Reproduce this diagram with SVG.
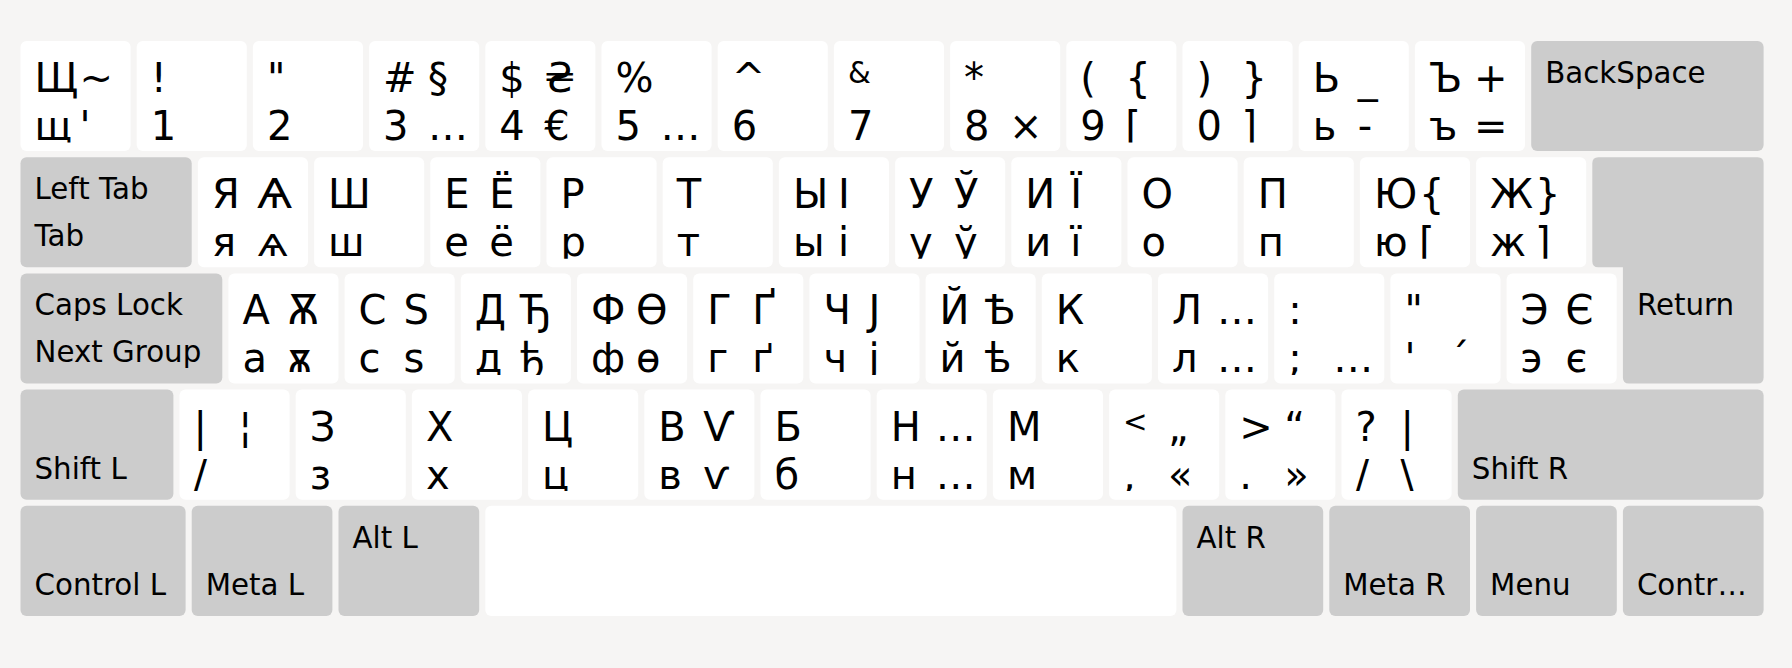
<svg xmlns="http://www.w3.org/2000/svg" width="1792" height="668" viewBox="0 0 1792 668">
<style>
.k{fill:#ffffff}
.m{fill:#cccccc}
text{font-family:"DejaVu Sans","Noto Sans",sans-serif;fill:#000000}
.b{font-size:40px}
.s{font-size:29.3px}
</style>
<defs>
<clipPath id="c" clipPathUnits="userSpaceOnUse"><rect x="0" y="0" width="400" height="101.5"/></clipPath>
</defs>
<rect width="1792" height="668" fill="#f6f5f4"/>

<g id="row1">
<g id="k-tlde" transform="translate(22.5,41)"><rect class="k" x="-2" width="110.1" height="110.1" rx="6"/><g clip-path="url(#c)"><text class="b" x="12" y="51">Щ</text><text class="b" x="57" y="51">~</text><text class="b" x="12" y="99">щ</text><text class="b" x="57" y="99">'</text></g></g>
<g id="k-ae01" transform="translate(138.7,41)"><rect class="k" x="-2" width="110.1" height="110.1" rx="6"/><g clip-path="url(#c)"><text class="b" x="12" y="51">!</text><text class="b" x="12" y="99">1</text></g></g>
<g id="k-ae02" transform="translate(254.9,41)"><rect class="k" x="-2" width="110.1" height="110.1" rx="6"/><g clip-path="url(#c)"><text class="b" x="12" y="51">"</text><text class="b" x="12" y="99">2</text></g></g>
<g id="k-ae03" transform="translate(371.1,41)"><rect class="k" x="-2" width="110.1" height="110.1" rx="6"/><g clip-path="url(#c)"><text class="b" x="12" y="51">#</text><text class="b" x="57" y="51">§</text><text class="b" x="12" y="99">3</text><text class="b" x="57" y="99">…</text></g></g>
<g id="k-ae04" transform="translate(487.3,41)"><rect class="k" x="-2" width="110.1" height="110.1" rx="6"/><g clip-path="url(#c)"><text class="b" x="12" y="51">$</text><text class="b" x="57" y="51">₴</text><text class="b" x="12" y="99">4</text><text class="b" x="57" y="99">€</text></g></g>
<g id="k-ae05" transform="translate(603.5,41)"><rect class="k" x="-2" width="110.1" height="110.1" rx="6"/><g clip-path="url(#c)"><text class="b" x="12" y="51">%</text><text class="b" x="12" y="99">5</text><text class="b" x="57" y="99">…</text></g></g>
<g id="k-ae06" transform="translate(719.7,41)"><rect class="k" x="-2" width="110.1" height="110.1" rx="6"/><g clip-path="url(#c)"><text class="b" x="12" y="51">^</text><text class="b" x="12" y="99">6</text></g></g>
<g id="k-ae07" transform="translate(835.9,41)"><rect class="k" x="-2" width="110.1" height="110.1" rx="6"/><g clip-path="url(#c)"><text class="s" x="12" y="42">&amp;</text><text class="b" x="12" y="99">7</text></g></g>
<g id="k-ae08" transform="translate(952.1,41)"><rect class="k" x="-2" width="110.1" height="110.1" rx="6"/><g clip-path="url(#c)"><text class="b" x="12" y="51">*</text><text class="b" x="12" y="99">8</text><text class="b" x="57" y="99">×</text></g></g>
<g id="k-ae09" transform="translate(1068.3,41)"><rect class="k" x="-2" width="110.1" height="110.1" rx="6"/><g clip-path="url(#c)"><text class="b" x="12" y="51">(</text><text class="b" x="57" y="51">{</text><text class="b" x="12" y="99">9</text><text class="b" x="57" y="99">[</text></g></g>
<g id="k-ae10" transform="translate(1184.5,41)"><rect class="k" x="-2" width="110.1" height="110.1" rx="6"/><g clip-path="url(#c)"><text class="b" x="12" y="51">)</text><text class="b" x="57" y="51">}</text><text class="b" x="12" y="99">0</text><text class="b" x="57" y="99">]</text></g></g>
<g id="k-ae11" transform="translate(1300.7,41)"><rect class="k" x="-2" width="110.1" height="110.1" rx="6"/><g clip-path="url(#c)"><text class="b" x="12" y="51">Ь</text><text class="b" x="57" y="51">_</text><text class="b" x="12" y="99">ь</text><text class="b" x="57" y="99">-</text></g></g>
<g id="k-ae12" transform="translate(1416.9,41)"><rect class="k" x="-2" width="110.1" height="110.1" rx="6"/><g clip-path="url(#c)"><text class="b" x="12" y="51">Ъ</text><text class="b" x="57" y="51">+</text><text class="b" x="12" y="99">ъ</text><text class="b" x="57" y="99">=</text></g></g>
<g id="k-bksp" transform="translate(1533.2,41)"><rect class="m" x="-2" width="232.4" height="110.1" rx="6"/><text class="s" x="12" y="42">BackSpace</text></g>
</g>

<g id="row2">
<g id="k-tab" transform="translate(22.5,157.2)"><rect class="m" x="-2" width="171.2" height="110.1" rx="6"/><text class="s" x="12" y="42">Left Tab</text><text class="s" x="12" y="89">Tab</text></g>
<g id="k-ad01" transform="translate(199.9,157.2)"><rect class="k" x="-2" width="110.1" height="110.1" rx="6"/><g clip-path="url(#c)"><text class="b" x="12" y="51">Я</text><text class="b" x="57" y="51">Ѧ</text><text class="b" x="12" y="99">я</text><text class="b" x="57" y="99">ѧ</text></g></g>
<g id="k-ad02" transform="translate(316.1,157.2)"><rect class="k" x="-2" width="110.1" height="110.1" rx="6"/><g clip-path="url(#c)"><text class="b" x="12" y="51">Ш</text><text class="b" x="12" y="99">ш</text></g></g>
<g id="k-ad03" transform="translate(432.3,157.2)"><rect class="k" x="-2" width="110.1" height="110.1" rx="6"/><g clip-path="url(#c)"><text class="b" x="12" y="51">Е</text><text class="b" x="57" y="51">Ё</text><text class="b" x="12" y="99">е</text><text class="b" x="57" y="99">ё</text></g></g>
<g id="k-ad04" transform="translate(548.5,157.2)"><rect class="k" x="-2" width="110.1" height="110.1" rx="6"/><g clip-path="url(#c)"><text class="b" x="12" y="51">Р</text><text class="b" x="12" y="99">р</text></g></g>
<g id="k-ad05" transform="translate(664.7,157.2)"><rect class="k" x="-2" width="110.1" height="110.1" rx="6"/><g clip-path="url(#c)"><text class="b" x="12" y="51">Т</text><text class="b" x="12" y="99">т</text></g></g>
<g id="k-ad06" transform="translate(780.9,157.2)"><rect class="k" x="-2" width="110.1" height="110.1" rx="6"/><g clip-path="url(#c)"><text class="b" x="12" y="51">Ы</text><text class="b" x="57" y="51">І</text><text class="b" x="12" y="99">ы</text><text class="b" x="57" y="99">і</text></g></g>
<g id="k-ad07" transform="translate(897.1,157.2)"><rect class="k" x="-2" width="110.1" height="110.1" rx="6"/><g clip-path="url(#c)"><text class="b" x="12" y="51">У</text><text class="b" x="57" y="51">Ў</text><text class="b" x="12" y="99">у</text><text class="b" x="57" y="99">ў</text></g></g>
<g id="k-ad08" transform="translate(1013.3,157.2)"><rect class="k" x="-2" width="110.1" height="110.1" rx="6"/><g clip-path="url(#c)"><text class="b" x="12" y="51">И</text><text class="b" x="57" y="51">Ї</text><text class="b" x="12" y="99">и</text><text class="b" x="57" y="99">ї</text></g></g>
<g id="k-ad09" transform="translate(1129.5,157.2)"><rect class="k" x="-2" width="110.1" height="110.1" rx="6"/><g clip-path="url(#c)"><text class="b" x="12" y="51">О</text><text class="b" x="12" y="99">о</text></g></g>
<g id="k-ad10" transform="translate(1245.7,157.2)"><rect class="k" x="-2" width="110.1" height="110.1" rx="6"/><g clip-path="url(#c)"><text class="b" x="12" y="51">П</text><text class="b" x="12" y="99">п</text></g></g>
<g id="k-ad11" transform="translate(1361.9,157.2)"><rect class="k" x="-2" width="110.1" height="110.1" rx="6"/><g clip-path="url(#c)"><text class="b" x="12" y="51">Ю</text><text class="b" x="57" y="51">{</text><text class="b" x="12" y="99">ю</text><text class="b" x="57" y="99">[</text></g></g>
<g id="k-ad12" transform="translate(1478.1,157.2)"><rect class="k" x="-2" width="110.1" height="110.1" rx="6"/><g clip-path="url(#c)"><text class="b" x="12" y="51">Ж</text><text class="b" x="57" y="51">}</text><text class="b" x="12" y="99">ж</text><text class="b" x="57" y="99">]</text></g></g>
<g id="k-rtrn"><path class="m" d="M1598.3,157.2 H1757.6 Q1763.6,157.2 1763.6,163.2 V377.4 Q1763.6,383.4 1757.6,383.4 H1628.9 Q1622.9,383.4 1622.9,377.4 V267.3 H1598.3 Q1592.3,267.3 1592.3,261.3 V163.2 Q1592.3,157.2 1598.3,157.2 Z"/><text class="s" x="1636.9" y="315.4">Return</text></g>
</g>

<g id="row3">
<g id="k-caps" transform="translate(22.5,273.4)"><rect class="m" x="-2" width="201.8" height="110.1" rx="6"/><text class="s" x="12" y="42">Caps Lock</text><text class="s" x="12" y="89">Next Group</text></g>
<g id="k-ac01" transform="translate(230.4,273.4)"><rect class="k" x="-2" width="110.1" height="110.1" rx="6"/><g clip-path="url(#c)"><text class="b" x="12" y="51">А</text><text class="b" x="57" y="51">Ѫ</text><text class="b" x="12" y="99">а</text><text class="b" x="57" y="99">ѫ</text></g></g>
<g id="k-ac02" transform="translate(346.6,273.4)"><rect class="k" x="-2" width="110.1" height="110.1" rx="6"/><g clip-path="url(#c)"><text class="b" x="12" y="51">С</text><text class="b" x="57" y="51">Ѕ</text><text class="b" x="12" y="99">с</text><text class="b" x="57" y="99">ѕ</text></g></g>
<g id="k-ac03" transform="translate(462.8,273.4)"><rect class="k" x="-2" width="110.1" height="110.1" rx="6"/><g clip-path="url(#c)"><text class="b" x="12" y="51">Д</text><text class="b" x="57" y="51">Ђ</text><text class="b" x="12" y="99">д</text><text class="b" x="57" y="99">ђ</text></g></g>
<g id="k-ac04" transform="translate(579,273.4)"><rect class="k" x="-2" width="110.1" height="110.1" rx="6"/><g clip-path="url(#c)"><text class="b" x="12" y="51">Ф</text><text class="b" x="57" y="51">Ѳ</text><text class="b" x="12" y="99">ф</text><text class="b" x="57" y="99">ѳ</text></g></g>
<g id="k-ac05" transform="translate(695.2,273.4)"><rect class="k" x="-2" width="110.1" height="110.1" rx="6"/><g clip-path="url(#c)"><text class="b" x="12" y="51">Г</text><text class="b" x="57" y="51">Ґ</text><text class="b" x="12" y="99">г</text><text class="b" x="57" y="99">ґ</text></g></g>
<g id="k-ac06" transform="translate(811.4,273.4)"><rect class="k" x="-2" width="110.1" height="110.1" rx="6"/><g clip-path="url(#c)"><text class="b" x="12" y="51">Ч</text><text class="b" x="57" y="51">Ј</text><text class="b" x="12" y="99">ч</text><text class="b" x="57" y="99">ј</text></g></g>
<g id="k-ac07" transform="translate(927.6,273.4)"><rect class="k" x="-2" width="110.1" height="110.1" rx="6"/><g clip-path="url(#c)"><text class="b" x="12" y="51">Й</text><text class="b" x="57" y="51">Ѣ</text><text class="b" x="12" y="99">й</text><text class="b" x="57" y="99">ѣ</text></g></g>
<g id="k-ac08" transform="translate(1043.8,273.4)"><rect class="k" x="-2" width="110.1" height="110.1" rx="6"/><g clip-path="url(#c)"><text class="b" x="12" y="51">К</text><text class="b" x="12" y="99">к</text></g></g>
<g id="k-ac09" transform="translate(1160,273.4)"><rect class="k" x="-2" width="110.1" height="110.1" rx="6"/><g clip-path="url(#c)"><text class="b" x="12" y="51">Л</text><text class="b" x="57" y="51">…</text><text class="b" x="12" y="99">л</text><text class="b" x="57" y="99">…</text></g></g>
<g id="k-ac10" transform="translate(1276.2,273.4)"><rect class="k" x="-2" width="110.1" height="110.1" rx="6"/><g clip-path="url(#c)"><text class="b" x="12" y="51">:</text><text class="b" x="12" y="99">;</text><text class="b" x="57" y="99">…</text></g></g>
<g id="k-ac11" transform="translate(1392.4,273.4)"><rect class="k" x="-2" width="110.1" height="110.1" rx="6"/><g clip-path="url(#c)"><text class="b" x="12" y="51">"</text><text class="b" x="12" y="99">'</text><text class="b" x="57" y="99">´</text></g></g>
<g id="k-ac12" transform="translate(1508.6,273.4)"><rect class="k" x="-2" width="110.1" height="110.1" rx="6"/><g clip-path="url(#c)"><text class="b" x="12" y="51">Э</text><text class="b" x="57" y="51">Є</text><text class="b" x="12" y="99">э</text><text class="b" x="57" y="99">є</text></g></g>
</g>

<g id="row4">
<g id="k-lfsh" transform="translate(22.5,389.6)"><rect class="m" x="-2" width="152.9" height="110.1" rx="6"/><text class="s" x="12" y="89">Shift L</text></g>
<g id="k-lsgt" transform="translate(181.5,389.6)"><rect class="k" x="-2" width="110.1" height="110.1" rx="6"/><g clip-path="url(#c)"><text class="b" x="12" y="51">|</text><text class="b" x="57" y="51">¦</text><text class="b" x="12" y="99">/</text></g></g>
<g id="k-ab01" transform="translate(297.7,389.6)"><rect class="k" x="-2" width="110.1" height="110.1" rx="6"/><g clip-path="url(#c)"><text class="b" x="12" y="51">З</text><text class="b" x="12" y="99">з</text></g></g>
<g id="k-ab02" transform="translate(413.9,389.6)"><rect class="k" x="-2" width="110.1" height="110.1" rx="6"/><g clip-path="url(#c)"><text class="b" x="12" y="51">Х</text><text class="b" x="12" y="99">х</text></g></g>
<g id="k-ab03" transform="translate(530.1,389.6)"><rect class="k" x="-2" width="110.1" height="110.1" rx="6"/><g clip-path="url(#c)"><text class="b" x="12" y="51">Ц</text><text class="b" x="12" y="99">ц</text></g></g>
<g id="k-ab04" transform="translate(646.3,389.6)"><rect class="k" x="-2" width="110.1" height="110.1" rx="6"/><g clip-path="url(#c)"><text class="b" x="12" y="51">В</text><text class="b" x="57" y="51">Ѵ</text><text class="b" x="12" y="99">в</text><text class="b" x="57" y="99">ѵ</text></g></g>
<g id="k-ab05" transform="translate(762.5,389.6)"><rect class="k" x="-2" width="110.1" height="110.1" rx="6"/><g clip-path="url(#c)"><text class="b" x="12" y="51">Б</text><text class="b" x="12" y="99">б</text></g></g>
<g id="k-ab06" transform="translate(878.7,389.6)"><rect class="k" x="-2" width="110.1" height="110.1" rx="6"/><g clip-path="url(#c)"><text class="b" x="12" y="51">Н</text><text class="b" x="57" y="51">…</text><text class="b" x="12" y="99">н</text><text class="b" x="57" y="99">…</text></g></g>
<g id="k-ab07" transform="translate(994.9,389.6)"><rect class="k" x="-2" width="110.1" height="110.1" rx="6"/><g clip-path="url(#c)"><text class="b" x="12" y="51">М</text><text class="b" x="12" y="99">м</text></g></g>
<g id="k-ab08" transform="translate(1111.1,389.6)"><rect class="k" x="-2" width="110.1" height="110.1" rx="6"/><g clip-path="url(#c)"><text class="s" x="12" y="42">&lt;</text><text class="b" x="57" y="51">„</text><text class="b" x="12" y="99">,</text><text class="b" x="57" y="99">«</text></g></g>
<g id="k-ab09" transform="translate(1227.3,389.6)"><rect class="k" x="-2" width="110.1" height="110.1" rx="6"/><g clip-path="url(#c)"><text class="b" x="12" y="51">&gt;</text><text class="b" x="57" y="51">“</text><text class="b" x="12" y="99">.</text><text class="b" x="57" y="99">»</text></g></g>
<g id="k-ab10" transform="translate(1343.5,389.6)"><rect class="k" x="-2" width="110.1" height="110.1" rx="6"/><g clip-path="url(#c)"><text class="b" x="12" y="51">?</text><text class="b" x="57" y="51">|</text><text class="b" x="12" y="99">/</text><text class="b" x="57" y="99">\</text></g></g>
<g id="k-rtsh" transform="translate(1459.8,389.6)"><rect class="m" x="-2" width="305.8" height="110.1" rx="6"/><text class="s" x="12" y="89">Shift R</text></g>
</g>

<g id="row5">
<g id="k-lctl" transform="translate(22.5,505.8)"><rect class="m" x="-2" width="165.1" height="110.1" rx="6"/><text class="s" x="12" y="89">Control L</text></g>
<g id="k-lwin" transform="translate(193.7,505.8)"><rect class="m" x="-2" width="140.7" height="110.1" rx="6"/><text class="s" x="12" y="89">Meta L</text></g>
<g id="k-lalt" transform="translate(340.5,505.8)"><rect class="m" x="-2" width="140.7" height="110.1" rx="6"/><text class="s" x="12" y="42">Alt L</text></g>
<g id="k-spce" transform="translate(487.3,505.8)"><rect class="k" x="-2" width="691.1" height="110.1" rx="6"/></g>
<g id="k-ralt" transform="translate(1184.5,505.8)"><rect class="m" x="-2" width="140.7" height="110.1" rx="6"/><text class="s" x="12" y="42">Alt R</text></g>
<g id="k-rwin" transform="translate(1331.3,505.8)"><rect class="m" x="-2" width="140.7" height="110.1" rx="6"/><text class="s" x="12" y="89">Meta R</text></g>
<g id="k-menu" transform="translate(1478.1,505.8)"><rect class="m" x="-2" width="140.7" height="110.1" rx="6"/><text class="s" x="12" y="89">Menu</text></g>
<g id="k-rctl" transform="translate(1624.9,505.8)"><rect class="m" x="-2" width="140.7" height="110.1" rx="6"/><text class="s" x="12" y="89">Contr…</text></g>
</g>

<g id="connectors"/>
</svg>
